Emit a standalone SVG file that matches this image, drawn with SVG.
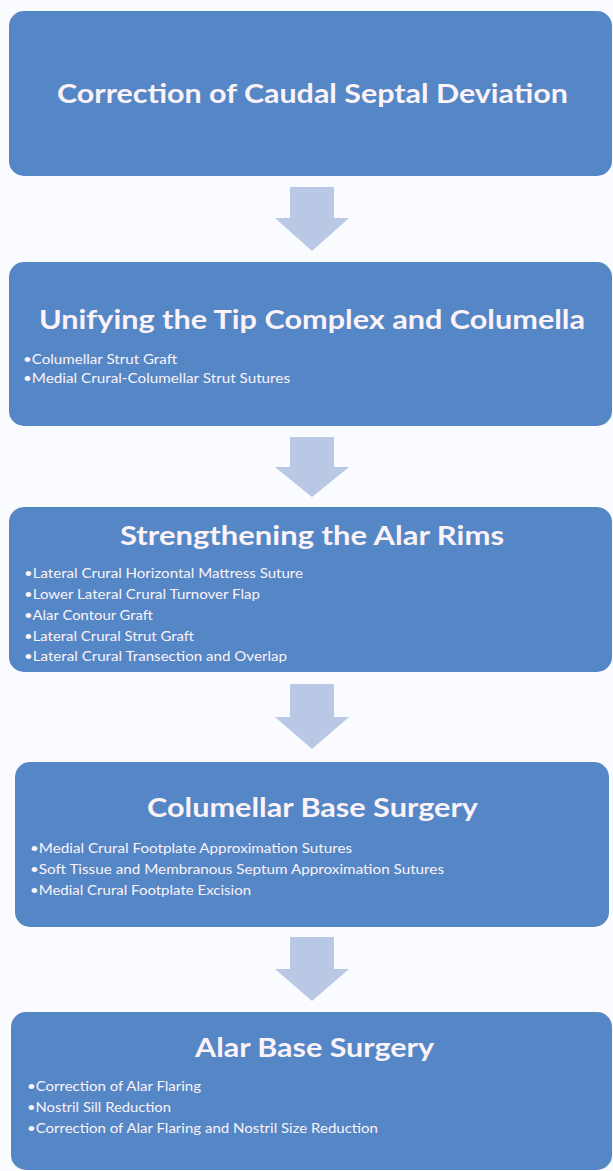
<svg xmlns="http://www.w3.org/2000/svg" width="613" height="1171" viewBox="0 0 613 1171">
  <style>
    .box { fill: #5586C6; }
    .arrow { fill: #B8C8E5; }
    .title { font-family: Lato, "Open Sans", "Liberation Sans", sans-serif; font-weight: 700; font-size: 26px; fill: #FBF3F8; text-anchor: middle; }
    .item { font-family: Lato, "Open Sans", "Liberation Sans", sans-serif; font-weight: 400; font-size: 13.5px; fill: #FBF3F8; }
  </style>
  <rect width="613" height="1171" fill="#FAFBFE"/>

  <!-- connectors: broad block arrows between the steps -->
  <g id="connectors">
    <path class="arrow" d="M290 187 H334 V218 H349 L312 251 L275 218 H290 Z"/>
    <path class="arrow" d="M290 437 H334 V467 H349 L312 497 L275 467 H290 Z"/>
    <path class="arrow" d="M290 684 H334 V717 H349 L312 749 L275 717 H290 Z"/>
    <path class="arrow" d="M290 937 H334 V969 H349 L312 1001 L275 969 H290 Z"/>
  </g>

  <g id="step1">
    <rect class="box" x="9" y="11" width="603" height="165" rx="15"/>
    <text class="title" x="312.5" y="103" textLength="511" lengthAdjust="spacingAndGlyphs">Correction of Caudal Septal Deviation</text>
  </g>

  <g id="step2">
    <rect class="box" x="9" y="262" width="603" height="164" rx="15"/>
    <text class="title" x="312" y="329" textLength="546" lengthAdjust="spacingAndGlyphs">Unifying the Tip Complex and Columella</text>
    <text class="item" x="23" y="364" textLength="154" lengthAdjust="spacingAndGlyphs">•Columellar Strut Graft</text>
    <text class="item" x="23" y="383" textLength="267" lengthAdjust="spacingAndGlyphs">•Medial Crural-Columellar Strut Sutures</text>
  </g>

  <g id="step3">
    <rect class="box" x="9" y="507" width="603" height="165" rx="15"/>
    <text class="title" x="312" y="545" textLength="384" lengthAdjust="spacingAndGlyphs">Strengthening the Alar Rims</text>
    <text class="item" x="24" y="578" textLength="279" lengthAdjust="spacingAndGlyphs">•Lateral Crural Horizontal Mattress Suture</text>
    <text class="item" x="24" y="599" textLength="236" lengthAdjust="spacingAndGlyphs">•Lower Lateral Crural Turnover Flap</text>
    <text class="item" x="24" y="620" textLength="129" lengthAdjust="spacingAndGlyphs">•Alar Contour Graft</text>
    <text class="item" x="24" y="641" textLength="170" lengthAdjust="spacingAndGlyphs">•Lateral Crural Strut Graft</text>
    <text class="item" x="24" y="661" textLength="263" lengthAdjust="spacingAndGlyphs">•Lateral Crural Transection and Overlap</text>
  </g>

  <g id="step4">
    <rect class="box" x="15" y="762" width="594" height="165" rx="15"/>
    <text class="title" x="312.5" y="817" textLength="331" lengthAdjust="spacingAndGlyphs">Columellar Base Surgery</text>
    <text class="item" x="30" y="853" textLength="322" lengthAdjust="spacingAndGlyphs">•Medial Crural Footplate Approximation Sutures</text>
    <text class="item" x="30" y="874" textLength="414" lengthAdjust="spacingAndGlyphs">•Soft Tissue and Membranous Septum Approximation Sutures</text>
    <text class="item" x="30" y="895" textLength="221" lengthAdjust="spacingAndGlyphs">•Medial Crural Footplate Excision</text>
  </g>

  <g id="step5">
    <rect class="box" x="11" y="1012" width="601" height="158" rx="15"/>
    <text class="title" x="314.5" y="1057" textLength="239" lengthAdjust="spacingAndGlyphs">Alar Base Surgery</text>
    <text class="item" x="27" y="1091" textLength="174" lengthAdjust="spacingAndGlyphs">•Correction of Alar Flaring</text>
    <text class="item" x="27" y="1112" textLength="144" lengthAdjust="spacingAndGlyphs">•Nostril Sill Reduction</text>
    <text class="item" x="27" y="1133" textLength="351" lengthAdjust="spacingAndGlyphs">•Correction of Alar Flaring and Nostril Size Reduction</text>
  </g>
</svg>
